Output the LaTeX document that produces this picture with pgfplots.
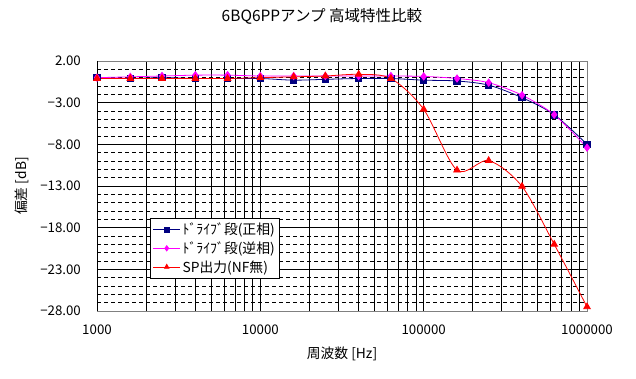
\documentclass[border=0pt]{standalone}
\usepackage{fontspec}
\setmainfont{Noto Sans CJK JP}
\usepackage{pgfplots}
\pgfplotsset{compat=1.18}
\definecolor{navyb}{RGB}{0,0,128}
\definecolor{mag}{RGB}{255,0,255}
\definecolor{redc}{RGB}{255,0,0}
\definecolor{bordg}{RGB}{128,128,128}
\begin{document}
\begin{tikzpicture}
\useasboundingbox (0pt,0pt) rectangle (636pt,379pt);
\begin{axis}[
  at={(97pt,68pt)}, anchor=south west,
  scale only axis, width=490pt, height=250pt,
  xmode=log, xmin=1000, xmax=1000000,
  ymin=-28, ymax=2,
  xtick={1000,10000,100000,1000000},
  xticklabels={1000,10000,100000,1000000},
  ytick={-28,-23,-18,-13,-8,-3,2},
  yticklabels={−28.00,−23.00,−18.00,−13.00,−8.00,−3.00,2.00},
  minor y tick num=4,
  major tick length=0pt, minor tick length=0pt,
  grid=both,
  major grid style={black, line width=0.8pt},
  minor x grid style={black, line width=0.8pt},
  minor y grid style={black, line width=0.8pt, dash pattern=on 4pt off 3pt},
  axis line style={bordg, line width=0.8pt},
  tick label style={font=\fontsize{13.3}{15}\selectfont},
  yticklabel style={xshift=-12.6pt},
  xticklabel style={yshift=-10pt},
  label style={font=\fontsize{13.8}{15}\selectfont},
  xlabel={周波数 [Hz]},
  ylabel={偏差 [dB]},
  xlabel style={at={(rel axis cs:0.5,0)}, anchor=center, yshift=-43pt},
  ylabel style={at={(rel axis cs:0,0.5)}, anchor=center, rotate=0, yshift=75.5pt},
  title={6BQ6PPアンプ 高域特性比較},
  title style={at={(rel axis cs:0.459,1.156)}, anchor=center, font=\fontsize{15.5}{17}\selectfont},
  legend style={at={(0.108,0.372)}, anchor=north west, draw=black, line width=0.8pt, fill=white,
    font=\fontsize{13.8}{15}\selectfont, row sep=1.5pt, inner sep=2.5pt},
  legend cell align=left,
  legend image code/.code={\draw[mark repeat=2,mark phase=2,mark size=2.6pt] plot coordinates {(0pt,0pt) (13.5pt,0pt) (27pt,0pt)};},
]
\addplot[navyb, line width=0.8pt, smooth, mark=square*, mark size=3.2pt, mark options={solid}] coordinates {
(1000,0.0) (1600,-0.1) (2500,0.0) (4000,-0.1) (6300,-0.1) (10000,-0.1) (16000,-0.3) (25000,-0.2)
(40000,-0.1) (63000,-0.1) (100000,-0.3) (160000,-0.4) (250000,-0.9) (400000,-2.4) (630000,-4.45) (1000000,-8.0)};
\addlegendentry{ﾄﾞﾗｲﾌﾞ段(正相)}
\addplot[mag, line width=0.8pt, smooth, mark=diamond*, mark size=3.6pt, mark options={solid}] coordinates {
(1000,0.0) (1600,0.1) (2500,0.2) (4000,0.3) (6300,0.3) (10000,0.2) (16000,0.2) (25000,0.2)
(40000,0.2) (63000,0.2) (100000,0.15) (160000,-0.1) (250000,-0.6) (400000,-2.1) (630000,-4.45) (1000000,-8.4)};
\addlegendentry{ﾄﾞﾗｲﾌﾞ段(逆相)}
\addplot[redc, line width=0.8pt, smooth, mark=triangle*, mark size=3.8pt, mark options={solid}] coordinates {
(1000,-0.1) (1600,-0.1) (2500,-0.1) (4000,-0.1) (6300,-0.1) (10000,0.0) (16000,0.1) (25000,0.2)
(40000,0.4) (63000,-0.1) (100000,-3.8) (160000,-11.1) (250000,-9.95) (400000,-13.05) (630000,-20.0) (1000000,-27.5)};
\addlegendentry{SP出力(NF無)}
\draw[black, line width=0.8pt] (rel axis cs:0,1) -- (rel axis cs:0,0) -- (rel axis cs:1,0);
\end{axis}
\end{tikzpicture}
\end{document}
